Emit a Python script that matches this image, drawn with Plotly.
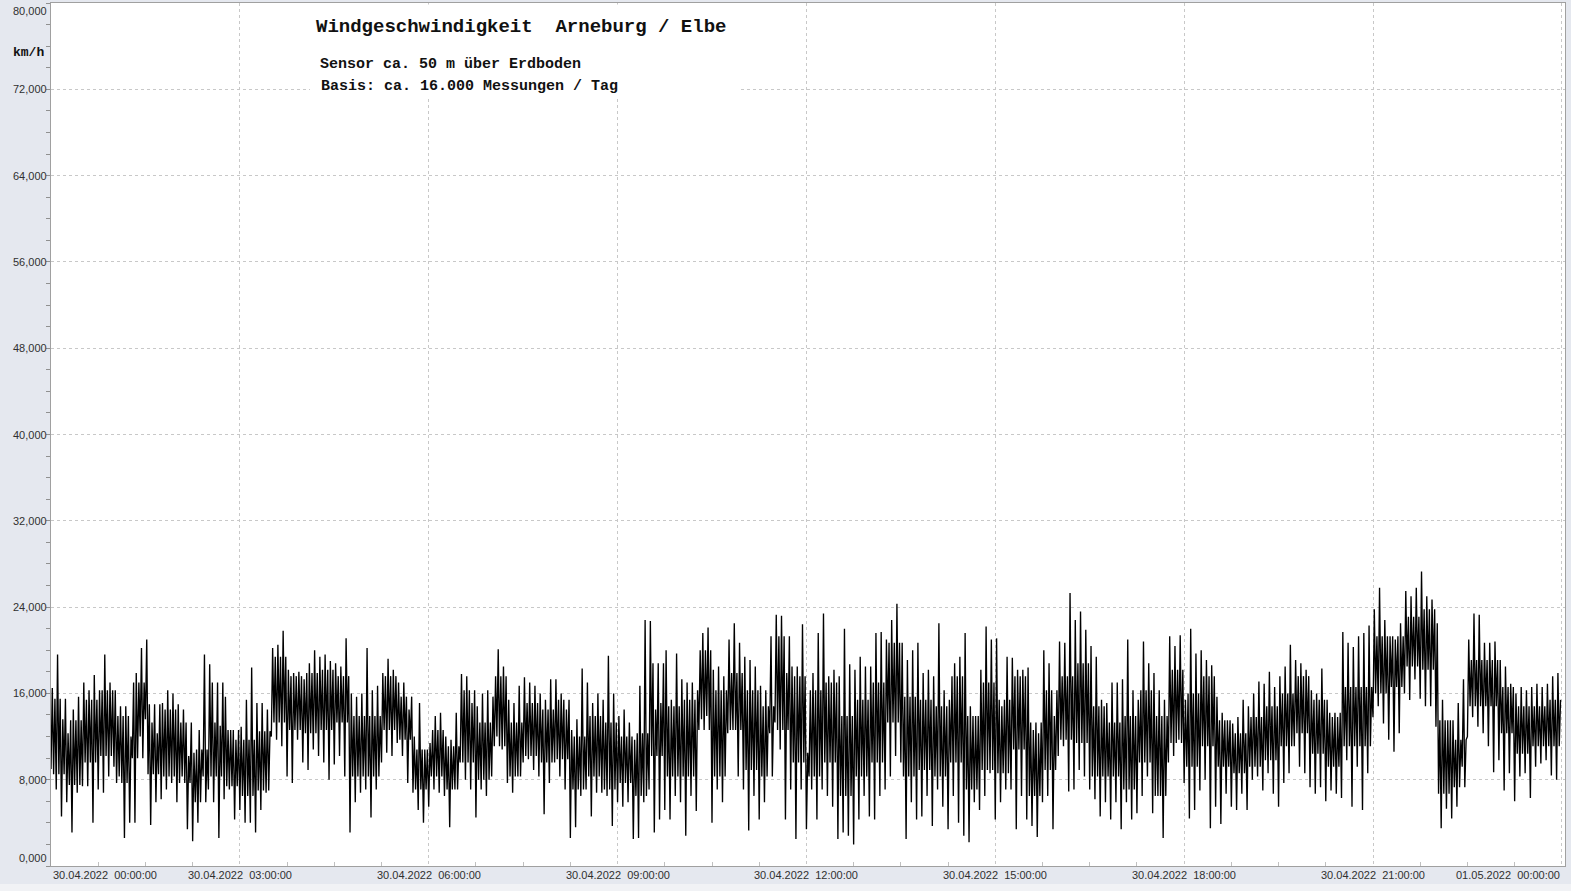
import plotly.graph_objects as go

# ---------------- data (km/h) ----------------
# 5-minute bins: upper / lower extremes of the measurements
BIN_MIN = 5

hi_00_03 = [16.5, 19.6, 13.6, 12.3, 14.5, 15.7, 17.0, 16.3, 17.7, 16.3, 19.6, 17.0, 16.3, 14.8, 14.8, 12.0, 17.9, 20.2,
            21.0, 13.3, 12.3, 15.1, 16.3, 16.0, 15.0, 14.5, 10.2, 10.5, 12.6, 19.6, 18.7, 13.3, 13.0, 15.7, 12.6, 11.7]
lo_00_03 = [9.0, 7.1, 4.6, 5.9, 3.1, 6.8, 7.4, 7.4, 4.0, 7.1, 6.8, 8.3, 9.2, 8.3, 2.6, 4.0, 4.0, 12.0,
            13.6, 3.8, 5.9, 6.2, 7.1, 7.7, 5.9, 8.3, 3.4, 2.3, 4.0, 8.3, 7.1, 5.9, 2.6, 6.2, 7.1, 4.3]

hi_03_06 = [12.9, 15.4, 18.4, 15.1, 15.1, 14.5, 20.2, 20.5, 21.8, 18.2, 17.9, 18.0, 17.3, 18.8, 20.0, 19.4, 19.6, 19.0,
            18.8, 18.5, 21.1, 16.0, 15.7, 16.0, 20.2, 16.3, 16.7, 17.9, 19.2, 18.2, 17.0, 17.0, 14.5, 12.0, 15.1, 10.8]
lo_03_06 = [5.2, 4.0, 4.0, 3.1, 5.2, 6.8, 12.0, 11.7, 11.1, 8.3, 7.7, 11.7, 9.6, 8.9, 10.8, 10.2, 9.6, 8.0,
            9.4, 10.2, 8.3, 3.1, 5.9, 6.8, 7.1, 4.5, 7.1, 9.6, 10.5, 10.2, 11.4, 10.2, 7.7, 6.8, 5.2, 4.0]

hi_06_09 = [11.4, 13.9, 14.2, 12.0, 11.7, 14.2, 17.8, 17.6, 15.1, 14.8, 16.0, 16.3, 15.7, 20.1, 18.5, 15.4, 15.1, 16.7,
            17.5, 17.0, 16.7, 16.0, 15.4, 17.3, 17.3, 16.0, 14.5, 12.6, 13.6, 18.3, 17.0, 15.1, 16.0, 15.4, 19.5, 16.0]
lo_06_09 = [5.5, 7.1, 6.8, 6.5, 3.6, 7.1, 9.6, 8.0, 7.1, 4.5, 7.1, 6.5, 8.3, 12.0, 10.8, 7.7, 6.8, 8.3,
            9.6, 9.9, 8.9, 8.3, 4.8, 7.7, 9.6, 8.3, 7.1, 2.6, 3.6, 6.5, 7.1, 4.6, 6.8, 6.8, 6.5, 3.7]

hi_09_12 = [13.9, 14.5, 13.3, 11.7, 16.7, 22.8, 22.7, 14.5, 15.1, 20.0, 15.4, 19.7, 17.3, 17.0, 17.0, 16.3, 21.6, 22.1,
            18.2, 18.5, 17.6, 21.0, 22.5, 20.7, 19.4, 19.1, 18.5, 16.7, 16.3, 21.3, 23.3, 23.2, 17.9, 18.5, 18.5, 22.4]
lo_09_12 = [5.9, 5.5, 5.9, 2.5, 2.6, 5.9, 7.1, 3.1, 4.3, 5.2, 4.3, 6.5, 5.9, 2.8, 6.5, 5.1, 13.6, 13.9,
            4.0, 7.1, 5.9, 12.3, 12.6, 8.3, 7.1, 3.3, 6.5, 4.3, 5.9, 12.3, 13.3, 10.8, 4.3, 7.1, 2.5, 7.1]

hi_12_15 = [10.5, 17.9, 21.6, 23.4, 17.6, 18.2, 17.6, 22.0, 18.7, 18.2, 19.4, 18.5, 18.5, 21.6, 21.7, 21.0, 22.8, 24.3,
            20.7, 19.1, 20.0, 20.7, 17.9, 18.2, 17.6, 22.5, 16.3, 15.4, 18.8, 19.4, 21.6, 14.8, 13.9, 18.2, 22.2, 21.0]
lo_12_15 = [3.4, 7.1, 4.3, 7.1, 6.5, 5.5, 2.5, 3.1, 2.8, 2.0, 4.3, 6.5, 4.6, 4.3, 6.5, 7.1, 8.3, 10.2,
            9.6, 2.5, 5.9, 4.3, 4.6, 6.5, 3.7, 7.1, 5.5, 3.4, 6.5, 4.0, 2.8, 2.2, 5.9, 5.2, 6.5, 8.6]

hi_15_18 = [21.1, 14.8, 19.4, 19.3, 18.2, 18.2, 18.4, 12.6, 12.3, 20.0, 18.8, 13.9, 20.8, 20.7, 25.3, 22.8, 23.6, 21.9,
            20.4, 19.4, 15.4, 15.1, 17.0, 17.0, 17.3, 21.0, 16.3, 15.4, 20.8, 18.8, 17.9, 16.3, 15.4, 21.3, 20.4, 21.4]
lo_15_18 = [4.3, 5.9, 7.1, 7.1, 3.4, 6.5, 4.3, 3.7, 2.7, 5.9, 6.5, 3.4, 10.2, 11.1, 6.9, 7.1, 8.9, 8.3,
            7.1, 6.2, 4.6, 5.9, 4.3, 5.9, 3.4, 5.9, 4.3, 4.9, 6.5, 8.3, 4.9, 6.5, 2.6, 9.6, 10.2, 11.7]

hi_18_21 = [15.4, 22.0, 19.7, 20.0, 19.1, 18.6, 15.7, 14.2, 13.5, 13.2, 13.8, 15.4, 14.8, 16.0, 17.1, 16.9, 18.0, 16.6,
            17.6, 18.5, 20.5, 19.1, 18.8, 18.2, 16.3, 16.0, 18.3, 15.4, 13.8, 13.8, 21.7, 20.7, 20.3, 21.3, 21.6, 22.3]
lo_18_21 = [7.7, 4.4, 5.2, 7.0, 8.0, 3.5, 5.5, 3.9, 6.7, 5.5, 5.2, 6.7, 5.2, 8.0, 8.3, 7.0, 8.6, 6.7,
            5.5, 7.7, 8.6, 11.1, 9.2, 8.6, 7.3, 6.7, 7.3, 6.0, 7.0, 6.7, 6.3, 9.8, 5.5, 9.2, 5.2, 8.6]

hi_21_24 = [23.8, 25.8, 22.8, 21.3, 21.0, 22.5, 25.5, 25.0, 25.8, 27.3, 25.0, 24.7, 22.5, 15.4, 13.5, 13.5, 15.1, 17.3,
            21.0, 23.4, 23.3, 20.7, 20.7, 20.8, 19.1, 18.5, 16.9, 16.0, 16.6, 16.3, 16.6, 16.9, 16.6, 16.9, 17.6, 17.9]
lo_21_24 = [13.8, 14.8, 13.2, 11.7, 10.6, 12.3, 16.0, 15.4, 17.3, 15.5, 14.8, 14.8, 12.9, 3.5, 5.3, 4.4, 5.5, 9.2,
            12.0, 13.8, 12.9, 12.3, 11.1, 8.7, 9.8, 7.0, 8.6, 6.0, 8.3, 8.6, 6.3, 9.2, 9.5, 9.8, 8.4, 8.0]

# 15-minute bins: dense core of the measurements (upper / lower edge)
CORE_MIN = 15
core_hi_00_03 = [15.5, 13.5, 15.4, 16.3, 13.9, 17.0, 15.0, 14.5, 13.3, 10.8, 17.0, 12.6]
core_lo_00_03 = [8.5, 7.5, 9.6, 10.2, 7.7, 10.0, 8.5, 8.3, 7.7, 5.9, 8.3, 7.4]
core_hi_03_06 = [11.7, 12.5, 19.4, 17.6, 17.9, 18.2, 17.6, 13.9, 13.9, 17.6, 15.7, 10.8]
core_lo_03_06 = [6.5, 7.0, 13.3, 12.6, 12.3, 12.6, 13.3, 8.3, 8.3, 12.6, 11.7, 7.1]
core_hi_06_09 = [12.6, 11.1, 16.3, 13.3, 17.6, 13.3, 15.1, 14.5, 15.4, 12.0, 13.9, 13.3]
core_lo_06_09 = [8.3, 7.1, 9.6, 8.0, 11.1, 8.3, 10.2, 9.6, 9.9, 7.1, 8.3, 7.1]
core_hi_09_12 = [12.0, 12.3, 18.8, 14.8, 15.4, 20.0, 16.3, 17.9, 16.3, 14.8, 21.3, 17.6]
core_lo_09_12 = [7.7, 6.5, 10.2, 8.3, 8.3, 12.6, 8.3, 12.6, 8.9, 8.3, 12.6, 9.6]
core_hi_12_15 = [16.3, 17.0, 13.9, 15.4, 17.0, 20.7, 15.7, 15.4, 14.8, 17.6, 13.9, 17.0]
core_lo_12_15 = [8.3, 9.6, 6.5, 8.3, 9.6, 13.3, 8.3, 8.9, 8.3, 9.6, 7.1, 8.9]
core_hi_15_18 = [15.4, 17.6, 13.3, 16.3, 17.6, 18.8, 14.8, 13.3, 13.9, 16.3, 13.9, 18.2]
core_lo_15_18 = [8.6, 10.8, 6.5, 8.9, 11.7, 11.4, 8.3, 8.3, 7.1, 9.6, 6.5, 11.4]
core_hi_18_21 = [16.0, 17.6, 13.5, 12.3, 13.8, 14.8, 16.0, 17.6, 15.4, 14.2, 16.6, 16.6]
core_lo_18_21 = [9.2, 11.1, 9.2, 8.6, 9.2, 9.8, 11.1, 12.3, 10.4, 9.2, 11.1, 11.1]
core_hi_21_24 = [21.3, 21.3, 23.1, 23.8, 13.5, 11.7, 19.1, 19.1, 16.6, 14.8, 14.8, 15.4]
core_lo_21_24 = [16.0, 16.6, 18.5, 18.2, 6.7, 7.3, 14.8, 14.8, 12.3, 10.4, 11.1, 11.1]

y_ticks = [0, 8, 16, 24, 32, 40, 48, 56, 64, 72, 80]
x_tick_hours = [0, 3, 6, 9, 12, 15, 18, 21, 24]
x_tick_labels = ["30.04.2022\u00a0\u00a000:00:00", "30.04.2022\u00a0\u00a003:00:00", "30.04.2022\u00a0\u00a006:00:00",
                 "30.04.2022\u00a0\u00a009:00:00", "30.04.2022\u00a0\u00a012:00:00", "30.04.2022\u00a0\u00a015:00:00",
                 "30.04.2022\u00a0\u00a018:00:00", "30.04.2022\u00a0\u00a021:00:00", "01.05.2022\u00a0\u00a000:00:00"]

title = "Windgeschwindigkeit\u00a0\u00a0Arneburg / Elbe"
sub1 = "Sensor ca. 50 m über Erdboden"
sub2 = "Basis: ca. 16.000 Messungen / Tag"
unit = "km/h"

# ---------------- build trace ----------------
hi = hi_00_03 + hi_03_06 + hi_06_09 + hi_09_12 + hi_12_15 + hi_15_18 + hi_18_21 + hi_21_24
lo = lo_00_03 + lo_03_06 + lo_06_09 + lo_09_12 + lo_12_15 + lo_15_18 + lo_18_21 + lo_21_24
core_hi = (core_hi_00_03 + core_hi_03_06 + core_hi_06_09 + core_hi_09_12 + core_hi_12_15 + core_hi_15_18
           + core_hi_18_21 + core_hi_21_24)
core_lo = (core_lo_00_03 + core_lo_03_06 + core_lo_06_09 + core_lo_09_12 + core_lo_12_15 + core_lo_15_18
           + core_lo_18_21 + core_lo_21_24)

per_core = CORE_MIN // BIN_MIN
xs, ys = [], []
for i, (h, l) in enumerate(zip(hi, lo)):
    t = i * BIN_MIN / 60.0
    step = BIN_MIN / 60.0 / 4
    c = i // per_core
    xs += [t, t + step, t + 2 * step, t + 3 * step]
    ys += [l, h, core_lo[c], core_hi[c]]

fig = go.Figure()
fig.add_trace(go.Scatter(x=xs, y=ys, mode="lines", line=dict(color="black", width=1.35),
                         hoverinfo="skip", showlegend=False))

W, H = 1571, 891
ML, MR, MT, MB = 51, 6, 3, 25
pw, ph = W - ML - MR, H - MT - MB


def px_to_paper_x(px):
    return (px - ML) / pw


def px_to_paper_y(py):
    return (H - MB - py) / ph


grid = dict(showgrid=True, gridcolor="#c8c8c8", griddash="3px,3px", gridwidth=1, zeroline=False,
            showline=True, linecolor="#a0a0a0", linewidth=1, mirror=True, showticklabels=False)

fig.update_layout(
    width=W, height=H, margin=dict(l=ML, r=MR, t=MT, b=MB),
    paper_bgcolor="#e5e8ef", plot_bgcolor="white", showlegend=False,
    xaxis=dict(range=[0, 24.05], tick0=0, dtick=3, ticks="",
               minor=dict(dtick=0.75, tick0=0, ticks="inside", ticklen=4, tickcolor="#c0c0c0", showgrid=False),
               **grid),
    yaxis=dict(range=[0, 80], tick0=0, dtick=8, ticks="outside", ticklen=4, tickcolor="#909090",
               minor=dict(dtick=2, tick0=0, ticks="outside", ticklen=4, tickcolor="#909090", showgrid=False),
               **grid),
)

ann = []
for v in y_ticks:
    shift = 0
    if v == 80:
        shift = -8
    elif v == 0:
        shift = 8
    ann.append(dict(xref="paper", yref="y", x=0, y=v, xanchor="right", yanchor="middle", xshift=-2, yshift=shift,
                    text=f"{v:.3f}".replace(".", ","), showarrow=False,
                    font=dict(family="Liberation Sans, Arial", size=11, color="#303030")))
for i, (h, lab) in enumerate(zip(x_tick_hours, x_tick_labels)):
    anchor = "center"
    if i == 0:
        anchor = "left"
    elif i == len(x_tick_hours) - 1:
        anchor = "right"
    ann.append(dict(xref="x", yref="paper", x=h, y=0, xanchor=anchor, yanchor="top", yshift=-1,
                    text=lab, showarrow=False,
                    font=dict(family="Liberation Sans, Arial", size=11, color="#303030")))

mono = "Liberation Mono, Courier New, monospace"
ann.append(dict(xref="paper", yref="paper", x=px_to_paper_x(314), y=px_to_paper_y(27), xanchor="left",
                yanchor="middle", text="<b>" + title + "</b>", showarrow=False,
                font=dict(family=mono, size=19, color="#111111")))
ann.append(dict(xref="paper", yref="paper", x=px_to_paper_x(318), y=px_to_paper_y(64), xanchor="left",
                yanchor="middle", text="<b>" + sub1 + "</b>", showarrow=False,
                font=dict(family=mono, size=15, color="#111111")))
ann.append(dict(xref="paper", yref="paper", x=px_to_paper_x(319), y=px_to_paper_y(86), xanchor="left",
                yanchor="middle", text="<b>" + sub2 + "</b>", showarrow=False,
                font=dict(family=mono, size=15, color="#111111")))
ann.append(dict(xref="paper", yref="paper", x=px_to_paper_x(28), y=px_to_paper_y(53), xanchor="center",
                yanchor="middle", text="<b>" + unit + "</b>", showarrow=False,
                font=dict(family=mono, size=13, color="#111111")))
fig.update_layout(annotations=ann)

fig.add_shape(type="rect", xref="paper", yref="paper", x0=px_to_paper_x(310), x1=px_to_paper_x(740),
              y0=px_to_paper_y(96), y1=px_to_paper_y(4.5), fillcolor="white", line=dict(width=0), layer="above")
fig.add_shape(type="rect", xref="paper", yref="paper", x0=px_to_paper_x(0), x1=px_to_paper_x(W),
              y0=px_to_paper_y(891), y1=px_to_paper_y(884), fillcolor="#f1f2f5", line=dict(width=0), layer="below")

fig.write_html("out.html", config={"displayModeBar": False},
               post_script="document.body.style.margin='0px';document.body.style.overflow='hidden';")
